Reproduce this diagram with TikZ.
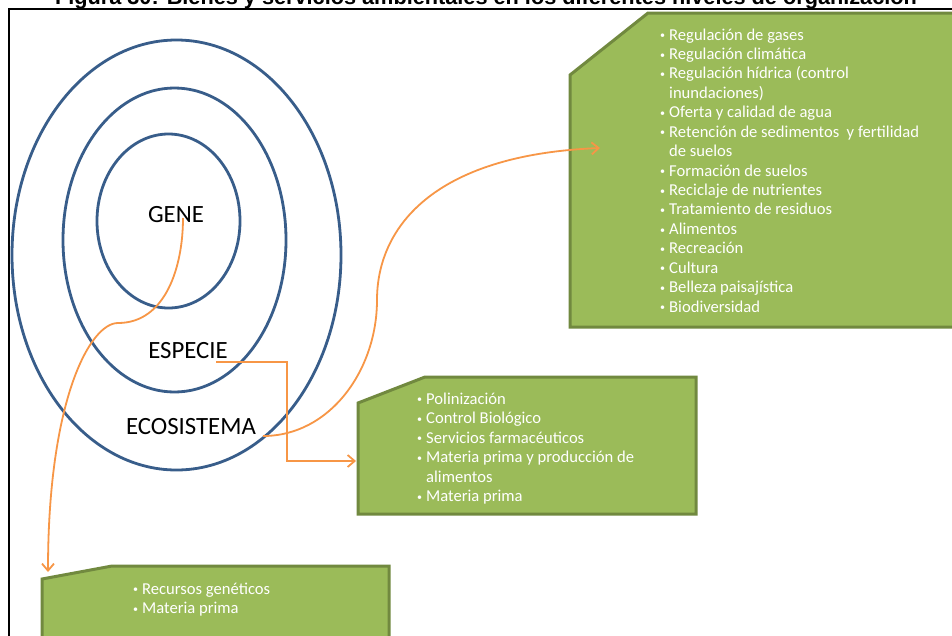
\documentclass[tikz,border=0pt]{standalone}
\usepackage{fontspec}
\setmainfont{Carlito}
\newfontfamily\titlefont{Liberation Sans}
\usetikzlibrary{arrows.meta}
\definecolor{ellblue}{HTML}{385D8A}
\definecolor{boxfill}{HTML}{9BBB59}
\definecolor{boxline}{HTML}{71893F}
\definecolor{conn}{HTML}{F79646}
\newcommand\itembul{\makebox[9pt][l]{\raisebox{1.2pt}{\fontsize{10}{10}\selectfont•}}}
\newcommand\itemcont{\hspace*{9pt}}
\begin{document}
\begin{tikzpicture}[x=1pt,y=-1pt,
  ring/.style={draw=ellblue,line width=2.8pt},
  greenbox/.style={fill=boxfill,draw=boxline,line width=3pt,line join=miter},
  lvl/.style={font=\fontsize{24.8}{28}\selectfont,inner sep=0,anchor=base},
  item/.style={font=\fontsize{16.6}{19.5}\selectfont,text=white,inner sep=0,anchor=base west},
  link/.style={draw=conn,line width=1.8pt,-{Straight Barb[length=7pt,width=12pt]}}
]
\useasboundingbox (0,0) rectangle (952,635);
\clip (0,0) rectangle (952,635);
\fill[white] (0,0) rectangle (952,635);

% title (cut at top)
\node[font=\titlefont\bfseries\fontsize{21.7}{24}\selectfont,inner sep=0,anchor=base] (title) at (486,4)
  {Figura 30: Bienes y servicios ambientales en los diferentes niveles de organización};

% frame
\draw[line width=2pt] (9,650) -- (9,9) -- (970,9);

% rings
\draw[ring] (176.5,255) ellipse [x radius=164.5, y radius=215];
\draw[ring] (174.5,240) ellipse [x radius=111.5, y radius=152];
\draw[ring] (168.5,221) ellipse [x radius=71.5, y radius=87];

% level labels
\node[lvl] (gene) at (176,222) {GENE};
\node[lvl] (especie) at (188,358) {ESPECIE};
\node[lvl] (ecosistema) at (191,434) {ECOSISTEMA};

% green boxes
\draw[greenbox] (570,75) -- (648,13) -- (970,13) -- (970,327) -- (570,327) -- cycle;
\draw[greenbox] (358,403) -- (425,377) -- (696,377) -- (696,514) -- (358,514) -- cycle;
\draw[greenbox] (42,579) -- (112,566) -- (389,566) -- (389,650) -- (42,650) -- cycle;

% box 1 text
\foreach \t [count=\i] in {
  {\itembul Regulación de gases},
  {\itembul Regulación climática},
  {\itembul Regulación hídrica (control},
  {\itemcont inundaciones)},
  {\itembul Oferta y calidad de agua},
  {\itembul Retención de sedimentos\ \ y fertilidad},
  {\itemcont de suelos},
  {\itembul Formación de suelos},
  {\itembul Reciclaje de nutrientes},
  {\itembul Tratamiento de residuos},
  {\itembul Alimentos},
  {\itembul Recreación},
  {\itembul Cultura},
  {\itembul Belleza paisajística},
  {\itembul Biodiversidad}}
  \node[item] (eco\i) at (660,{40+19.43*(\i-1)}) {\t};

% box 2 text
\foreach \t [count=\i] in {
  {\itembul Polinización},
  {\itembul Control Biológico},
  {\itembul Servicios farmacéuticos},
  {\itembul Materia prima y producción de},
  {\itemcont alimentos},
  {\itembul Materia prima}}
  \node[item] (esp\i) at (417,{404+19.5*(\i-1)}) {\t};

% box 3 text
\foreach \t [count=\i] in {
  {\itembul Recursos genéticos},
  {\itembul Materia prima}}
  \node[item] (gen\i) at (133,{594+19.5*(\i-1)}) {\t};

% connectors
\coordinate (geneS) at (183,218);
\coordinate (geneM) at (118,323);
\coordinate (geneE) at (48,572);
\draw[link] (geneS) .. controls (183,266) and (166,323) .. (geneM)
  .. controls (90,323) and (48,400) .. (geneE);

\coordinate (espS) at (216,362);
\coordinate (espB) at (287,400);
\coordinate (espE) at (356,461);
\draw[link] (espS) -| (espB) |- (espE);

\coordinate (ecoS) at (263,436);
\coordinate (ecoM) at (377,300);
\coordinate (ecoE) at (600,148);
\draw[link] (ecoS) .. controls (330,436) and (377,370) .. (ecoM)
  .. controls (377,230) and (430,155) .. (ecoE);
\end{tikzpicture}
\end{document}
